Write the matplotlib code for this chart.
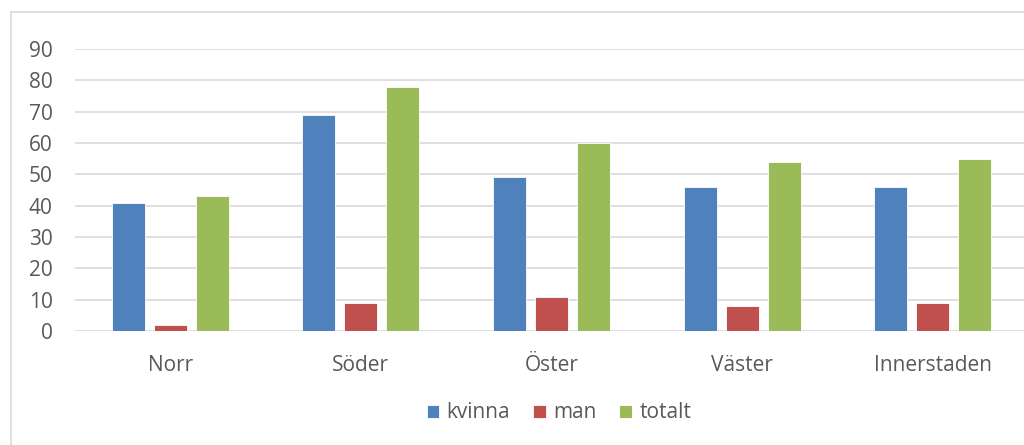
import matplotlib.pyplot as plt
import numpy as np
from matplotlib.patches import Rectangle

regions = ['Norr', 'Söder', 'Öster', 'Väster', 'Innerstaden']
kvinna = [41, 69, 49, 46, 46]
man = [2, 9, 11, 8, 9]
totalt = [43, 78, 60, 54, 55]
series_names = ['kvinna', 'man', 'totalt']
colors = ['#4f81bd', '#c0504d', '#9bbb59']

plt.rcParams['font.family'] = ['Open Sans', 'DejaVu Sans']

fig = plt.figure(figsize=(10.24, 4.45), dpi=100)
W, H = 1024, 445
# chart border (light gray, extends past right/bottom edge)
fig.patches.append(Rectangle((11 / W, -0.1), 1.2, (H - 12) / H + 0.1,
                             transform=fig.transFigure, fill=False,
                             edgecolor='#d9d9d9', linewidth=1.2))

ax = fig.add_axes([75 / W, (H - 331) / H, (1028 - 75) / W, (331 - 49) / H])

x = np.arange(len(regions))
bw = 0.173
step = 0.22
for i, (vals, name, c) in enumerate(zip([kvinna, man, totalt], series_names, colors)):
    ax.bar(x + (i - 1) * step, vals, width=bw, color=c, label=name,
           edgecolor='white', linewidth=0.6, zorder=3)

ax.set_xlim(-0.5, len(regions) - 0.5)
ax.set_ylim(0, 90)
ax.set_yticks(range(0, 91, 10))
ax.set_xticks(x)
ax.set_xticklabels(regions)
ax.yaxis.grid(True, color='#d9d9d9', linewidth=1.2, zorder=0)
ax.set_axisbelow(True)
for s in ax.spines.values():
    s.set_visible(False)
ax.tick_params(axis='both', length=0, colors='#595959', labelsize=15)
ax.tick_params(axis='y', pad=16)
ax.tick_params(axis='x', pad=17)

leg = fig.legend(loc='center', bbox_to_anchor=(559 / W, 1 - 413 / H), ncol=3,
                 frameon=False, fontsize=15, handlelength=0.6, handleheight=0.6,
                 handletextpad=0.35, columnspacing=1.1, labelcolor='#595959')

fig.savefig('out.png', dpi=100)
